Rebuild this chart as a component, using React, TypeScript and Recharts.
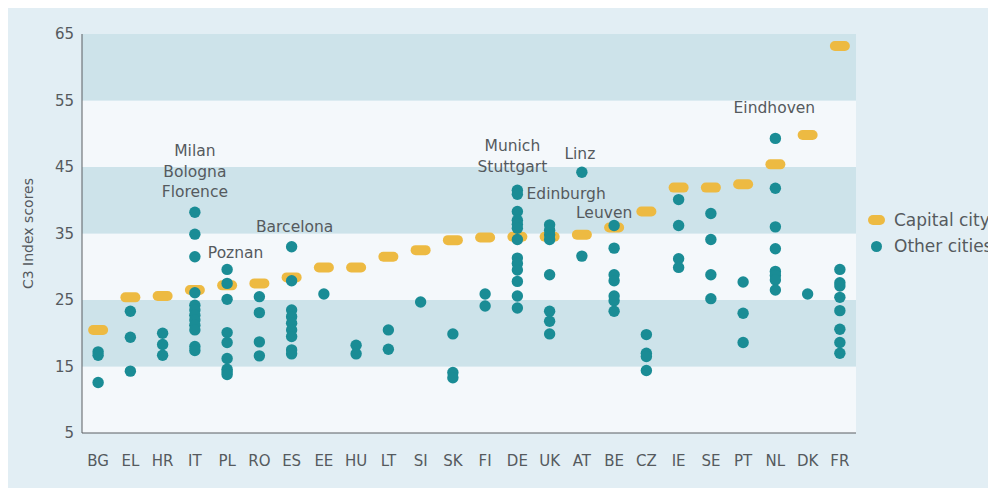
import React from 'react';
import { ScatterChart, Scatter, XAxis, YAxis, ReferenceArea, Legend } from 'recharts';

const countries = ['BG','EL','HR','IT','PL','RO','ES','EE','HU','LT','SI','SK','FI','DE','UK','AT','BE','CZ','IE','SE','PT','NL','DK','FR'];
const capitalScores = [20.5,25.4,25.6,26.5,27.2,27.5,28.4,29.9,29.9,31.5,32.5,34.0,34.4,34.5,34.5,34.8,35.9,38.3,41.9,41.9,42.4,45.4,49.8,63.2];
const otherCityScores: number[][] = [
  [17.2,16.7,12.6],
  [23.3,19.4,14.3],
  [20.0,18.3,16.7],
  [38.2,34.9,31.5,26.1,24.2,23.5,22.7,22.0,21.2,20.5,18.0,17.4],
  [29.6,27.5,25.1,20.1,18.6,16.2,14.6,14.2,13.8],
  [25.5,23.1,18.7,16.6],
  [33.0,27.9,23.5,22.5,21.5,20.5,19.5,17.5,16.9],
  [25.9],
  [18.2,16.9],
  [20.5,17.6],
  [24.7],
  [19.9,14.1,13.3],
  [25.9,24.1],
  [41.5,40.9,38.3,37.0,36.4,35.8,34.1,31.3,30.5,29.5,27.8,25.6,23.8],
  [36.3,35.5,34.8,34.1,28.8,23.3,21.8,19.9],
  [44.2,31.6],
  [36.2,32.8,28.8,27.9,25.6,24.9,23.3],
  [19.8,17.0,16.5,14.4],
  [40.1,36.2,31.2,29.9],
  [38.0,34.1,28.8,25.2],
  [27.7,23.0,18.6],
  [49.3,41.8,36.0,32.7,29.3,28.7,28.0,26.5],
  [25.9],
  [29.6,27.6,27.1,25.4,23.4,20.6,18.6,17.0],
];
const annotatedCountries = ['IT','PL','ES','DE','AT','UK','BE','NL'];
const annotationTexts = [
  ['Milan','Bologna','Florence'],
  ['Poznan'],
  ['Barcelona'],
  ['Munich','Stuttgart'],
  ['Linz'],
  ['Edinburgh'],
  ['Leuven'],
  ['Eindhoven'],
];
const yTicks = [5,15,25,35,45,55,65];
const bands = [[5,15],[15,25],[25,35],[35,45],[45,55],[55,65]];

// render-side offsets for annotation text (pixels relative to top city dot)
const LABEL_OFFSETS: Record<string, [number, number]> = {
  IT: [0, -61], PL: [8.5, -16], ES: [3, -20], DE: [-5, -44],
  AT: [-2, -18], UK: [16.5, -31], BE: [-10, -13], NL: [-1, -30],
};

const ORANGE = '#EDBA42';
const TEAL = '#1A8C95';
const DARK_BAND = '#CDE3EA';
const LIGHT_BAND = '#F4F8FB';
const BG = '#E2EEF4';
const TEXT = '#555a5e';
const FONT = 'DejaVu Sans';

const capitalData = countries.map((c, i) => ({ x: i, y: capitalScores[i], country: c }));
const otherData = countries.flatMap((c, i) => otherCityScores[i].map((v) => ({ x: i, y: v, country: c })));
const annotationData = annotatedCountries.map((c, k) => {
  const i = countries.indexOf(c);
  return { x: i, y: Math.max(...otherCityScores[i]), country: c, lines: annotationTexts[k] };
});

const CapitalShape = (p: any) => (
  <rect x={p.cx - 10} y={p.cy - 5} width={20} height={10} rx={5} ry={5} fill={ORANGE} />
);
const CityShape = (p: any) => <circle cx={p.cx} cy={p.cy} r={5.7} fill={TEAL} />;
const AnnotationShape = (p: any) => {
  const pl = p.payload || {};
  const off = LABEL_OFFSETS[pl.country] || [0, -20];
  const lines: string[] = pl.lines || [];
  return (
    <g>
      {lines.map((t, j) => (
        <text key={j} x={p.cx + off[0]} y={p.cy + off[1] + j * 20.5} textAnchor="middle"
          dominantBaseline="central" fontFamily={FONT} fontSize={15.5} fill={TEXT}>{t}</text>
      ))}
    </g>
  );
};

const LegendContent = () => (
  <div style={{ fontFamily: FONT, fontSize: 17, color: TEXT, lineHeight: '26px' }}>
    <div style={{ display: 'flex', alignItems: 'center' }}>
      <span style={{ display: 'inline-block', width: 17, height: 10, borderRadius: 5, background: ORANGE, marginRight: 9 }} />
      Capital city
    </div>
    <div style={{ display: 'flex', alignItems: 'center' }}>
      <span style={{ display: 'inline-block', width: 11, height: 11, borderRadius: 6, background: TEAL, marginLeft: 3, marginRight: 12 }} />
      Other cities
    </div>
  </div>
);

export default function App() {
  return (
    <div style={{ position: 'relative', top: -4, width: 988, height: 484, background: BG }}>
      <ScatterChart width={988} height={484} margin={{ top: 30, right: 12, bottom: 25, left: 0 }}>
        {bands.map((b, i) => (
          <ReferenceArea key={i} y1={b[0]} y2={b[1]} x1={-0.5} x2={23.5} fill={i % 2 === 1 ? DARK_BAND : LIGHT_BAND}
            fillOpacity={1} stroke="none" ifOverflow="hidden" />
        ))}
        <XAxis type="number" dataKey="x" domain={[-0.5, 23.5]} ticks={countries.map((_, i) => i)} interval={0}
          tickFormatter={(i: number) => countries[i]} tickLine={false} tickSize={0} tickMargin={22}
          axisLine={{ stroke: '#5a5f63', strokeWidth: 1 }} height={30}
          tick={{ fontFamily: FONT, fontSize: 15, fill: TEXT }} allowDataOverflow />
        <YAxis type="number" dataKey="y" domain={[5, 65]} ticks={yTicks} interval={0} width={74}
          tickLine={false} tickSize={0} tickMargin={8}
          axisLine={{ stroke: '#5a5f63', strokeWidth: 1 }}
          tick={{ fontFamily: FONT, fontSize: 15, fill: TEXT }}
          label={{ value: 'C3 Index scores', angle: -90, position: 'insideLeft', offset: 20,
            style: { textAnchor: 'middle', fontFamily: FONT, fontSize: 14, fill: TEXT } }} allowDataOverflow />
        <Legend layout="vertical" align="right" verticalAlign="top" content={<LegendContent />}
          wrapperStyle={{ position: 'absolute', left: 860, top: 203, width: 128 }} />
        <Scatter name="Capital city" data={capitalData} fill={ORANGE} shape={CapitalShape} isAnimationActive={false} />
        <Scatter name="Other cities" data={otherData} fill={TEAL} shape={CityShape} isAnimationActive={false} />
        <Scatter name="annotations" data={annotationData} fill="none" shape={AnnotationShape} legendType="none" isAnimationActive={false} />
      </ScatterChart>
    </div>
  );
}
